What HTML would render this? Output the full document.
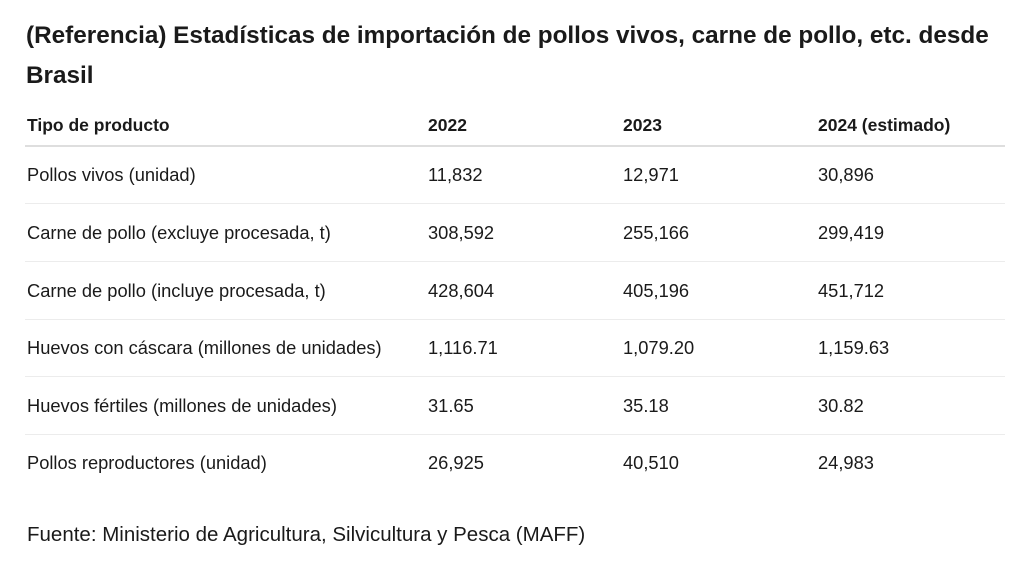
<!DOCTYPE html>
<html><head><meta charset="utf-8"><style>
body{margin:0;width:1024px;height:570px;background:#fff;font-family:"Liberation Sans",sans-serif;color:#1a1a1a;position:relative;overflow:hidden}
.t{position:absolute;left:26px;top:16px;width:995px;font-size:24.3px;font-weight:bold;line-height:40px}
.r{position:absolute;left:25px;width:980px;height:57px;font-size:18.3px}
.r span{position:absolute;top:0;line-height:57px;white-space:nowrap}
.c0{left:2px}.c1{left:403px}.c2{left:598px}.c3{left:793px}
.h{font-weight:bold;border-bottom:2px solid #dedede;height:42px;font-size:17.5px}
.h span{line-height:45px}
.b{border-bottom:1px solid #ececec}
.f{position:absolute;left:27px;top:523px;font-size:20.5px}
</style></head><body>
<div class="t">(Referencia) Estadísticas de importación de pollos vivos, carne de pollo, etc. desde Brasil</div>
<div class="r h" style="top:103px"><span class="c0">Tipo de producto</span><span class="c1">2022</span><span class="c2">2023</span><span class="c3">2024 (estimado)</span></div>
<div class="r b" style="top:146px"><span class="c0">Pollos vivos (unidad)</span><span class="c1">11,832</span><span class="c2">12,971</span><span class="c3">30,896</span></div>
<div class="r b" style="top:204px"><span class="c0">Carne de pollo (excluye procesada, t)</span><span class="c1">308,592</span><span class="c2">255,166</span><span class="c3">299,419</span></div>
<div class="r b" style="top:262px"><span class="c0">Carne de pollo (incluye procesada, t)</span><span class="c1">428,604</span><span class="c2">405,196</span><span class="c3">451,712</span></div>
<div class="r b" style="top:319px"><span class="c0">Huevos con cáscara (millones de unidades)</span><span class="c1">1,116.71</span><span class="c2">1,079.20</span><span class="c3">1,159.63</span></div>
<div class="r b" style="top:377px"><span class="c0">Huevos fértiles (millones de unidades)</span><span class="c1">31.65</span><span class="c2">35.18</span><span class="c3">30.82</span></div>
<div class="r" style="top:434px"><span class="c0">Pollos reproductores (unidad)</span><span class="c1">26,925</span><span class="c2">40,510</span><span class="c3">24,983</span></div>
<div class="f">Fuente: Ministerio de Agricultura, Silvicultura y Pesca (MAFF)</div>
</body></html>
